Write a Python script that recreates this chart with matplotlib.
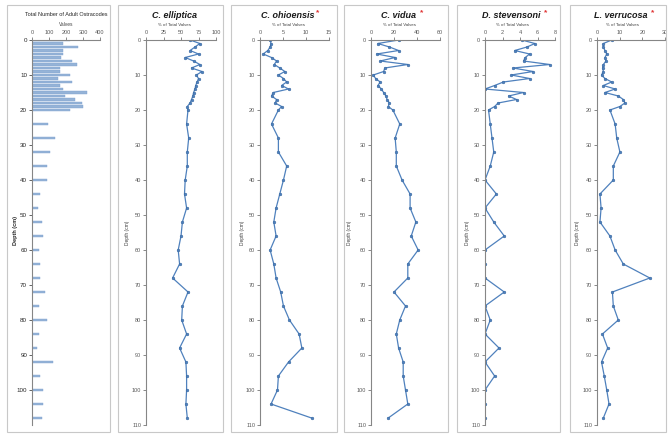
import matplotlib
matplotlib.use("Agg")
import matplotlib.pyplot as plt
from matplotlib.patches import Rectangle

plt.rcParams['font.family'] = ['Liberation Sans', 'DejaVu Sans']

# sample depths (cm): every cm to 20, then every 4 cm
depths = list(range(0, 21)) + list(range(24, 109, 4))

# total valves per sample
total_valves = [223, 182, 271, 182, 182, 170, 233, 263, 165, 165, 223,
                155, 233, 165, 182, 322, 194, 251, 292, 300, 223,
                96, 135, 106, 86, 86, 47, 37, 57, 67, 43, 47, 47,
                76, 43, 86, 43, 31, 122, 47, 67, 67, 57]

# relative abundances (%)
c_elliptica = [63, 77, 70, 63, 75, 56, 68, 77, 65, 80, 72,
               75, 73, 71, 70, 68, 67, 65, 63, 59, 60,
               58, 61, 59, 59, 56, 55, 58, 52, 50, 46, 48, 38, 60,
               52, 51, 58, 48, 57, 58, 58, 57, 59]
c_ohioensis = [2.2, 2.4, 2.2, 1.7, 0.7, 2.5, 3.6, 3.1, 4.3, 5.4, 4.0,
               5.1, 5.8, 4.7, 6.2, 2.9, 2.5, 3.6, 3.3, 4.7, 4.0,
               2.5, 4.0, 4.0, 5.8, 5.1, 4.3, 3.5, 3.0, 3.5, 2.2, 3.0, 3.5, 4.5,
               5.1, 6.4, 8.5, 9.1, 6.2, 4.0, 3.8, 2.4, 11.2]
c_vidua = [24, 6, 16, 24, 5, 21, 8, 32, 12, 11, 2,
           4, 8, 6, 9, 11, 13, 14, 16, 15, 19,
           25, 21, 22, 22, 27, 34, 34, 39, 35, 41, 32, 32, 20,
           30, 25, 22, 24, 28, 28, 30, 32, 15]
d_stevensoni = [4.2, 5.7, 4.8, 3.4, 5.1, 4.6, 4.4, 7.4, 3.2, 5.5, 3.0,
                5.1, 2.1, 1.1, 0.0, 4.4, 2.7, 3.6, 1.5, 1.1, 0.4,
                0.6, 0.8, 1.0, 0.6, 0.0, 1.3, 0.0, 1.0, 2.2, 0.0, 0.0, 0.0, 2.2,
                0.0, 0.6, 0.0, 1.6, 0.0, 1.1, 0.0, 0.0, 0.0]
l_verrucosa = [6.5, 2.8, 2.8, 3.5, 4.3, 3.5, 4.0, 2.8, 2.5, 2.8, 2.0,
               3.5, 6.5, 2.8, 8.0, 3.5, 9.4, 11.6, 12.3, 10.1, 5.7,
               8.0, 8.7, 10.1, 7.2, 7.2, 1.3, 1.8, 1.3, 5.7, 8.0, 11.6, 23.3, 6.8,
               7.2, 9.4, 2.4, 4.7, 2.0, 3.2, 4.3, 5.3, 2.8]

species = [
    ("C. elliptica", "", "% of Total Valves", c_elliptica, [0, 25, 50, 75, 100]),
    ("C. ohioensis", "*", "% of Total Valves", c_ohioensis, [0, 5, 10, 15]),
    ("C. vidua ", "*", "% of Total Valves", c_vidua, [0, 20, 40, 60]),
    ("D. stevensoni ", "*", "% of Total Valves", d_stevensoni, [0, 2, 4, 6, 8]),
    ("L. verrucosa ", "*", "% of Total Valves", l_verrucosa, [0, 10, 20, 30]),
]

W, H = 668, 434
fig = plt.figure(figsize=(W / 100, H / 100), dpi=100)

# panel frames (pixels)
frames = [(7, 110), (118, 223), (231, 337), (344, 448), (457, 560), (570, 666)]
for x0, x1 in frames:
    fig.add_artist(Rectangle((x0 / W, 2 / H), (x1 - x0) / W, (H - 7) / H,
                             transform=fig.transFigure, fill=False,
                             edgecolor='#c8c8c8', linewidth=0.8))

# axes x extents (pixels)
ax_x = [(32, 100), (146, 216), (260, 329), (371, 440), (485, 555), (597, 665)]
label_x = [15, 128, 242, 350, 468, 577]
ax_bottom = 9 / H
ax_height = 385 / H

blue = '#4F81BD'
grey = '#595959'


def style_axis(ax, xticks):
    ax.set_ylim(110, 0)
    ax.set_xlim(xticks[0], xticks[-1])
    ax.set_xticks(xticks)
    ax.xaxis.tick_top()
    for s in ['right', 'bottom']:
        ax.spines[s].set_visible(False)
    for s in ['left', 'top']:
        ax.spines[s].set_color('#868686')
        ax.spines[s].set_linewidth(0.8)
    ax.tick_params(axis='both', labelsize=4, colors=grey, length=2,
                   width=0.5, pad=1.5)
    ax.patch.set_alpha(0)


# panel 1: total valves bars
x0, x1 = ax_x[0]
ax = fig.add_axes([x0 / W, ax_bottom, (x1 - x0) / W, ax_height])
ax.barh(depths, total_valves, height=0.75, color='#95B3D7', edgecolor='#7FA3D0',
        linewidth=0.3)
style_axis(ax, [0, 100, 200, 300, 400])
ax.set_yticks(range(0, 101, 10))
ax.tick_params(axis='y', labelsize=4.5, colors='#262626')
fig.text(66 / W, 1 - 15 / H, "Total Number of Adult Ostracodes", ha='center',
         va='center', fontsize=4, color='#262626')
fig.text(66 / W, 1 - 24 / H, "Valves", ha='center', va='center', fontsize=3.5,
         color='#404040')
fig.text(label_x[0] / W, 1 - 230 / H, "Depth (cm)", rotation=90, ha='center',
         va='center', fontsize=4, fontweight='bold', color='#262626')

# species panels
for i, (name, star, sub, vals, xticks) in enumerate(species, start=1):
    x0, x1 = ax_x[i]
    ax = fig.add_axes([x0 / W, ax_bottom, (x1 - x0) / W, ax_height])
    ax.plot(vals, depths, color=blue, linewidth=0.9, marker='o', markersize=2,
            markerfacecolor=blue, markeredgecolor='#2F5F98', markeredgewidth=0.3)
    style_axis(ax, xticks)
    ax.set_yticks(range(0, 111, 10))
    ax.set_xlim(xticks[0], xticks[-1])
    cx = ((frames[i][0] + frames[i][1]) / 2 + 4) / W
    t = fig.text(cx, 1 - 15 / H, name, ha='center', va='center', fontsize=6.5,
                 fontweight='bold', fontstyle='italic', color='#1a1a1a')
    if star:
        fig.canvas.draw()
        bb = t.get_window_extent()
        fig.text(bb.x1 / W + 0.002, 1 - 13 / H, star, ha='left', va='center',
                 fontsize=6, color='#e03030', fontweight='bold')
    fig.text(cx, 1 - 25 / H, sub, ha='center', va='center', fontsize=3.2,
             color='#404040')
    fig.text(label_x[i] / W, 1 - 233 / H, "Depth (cm)", rotation=90, ha='center',
             va='center', fontsize=3.5, color='#404040')

fig.savefig("out.png", dpi=100)
